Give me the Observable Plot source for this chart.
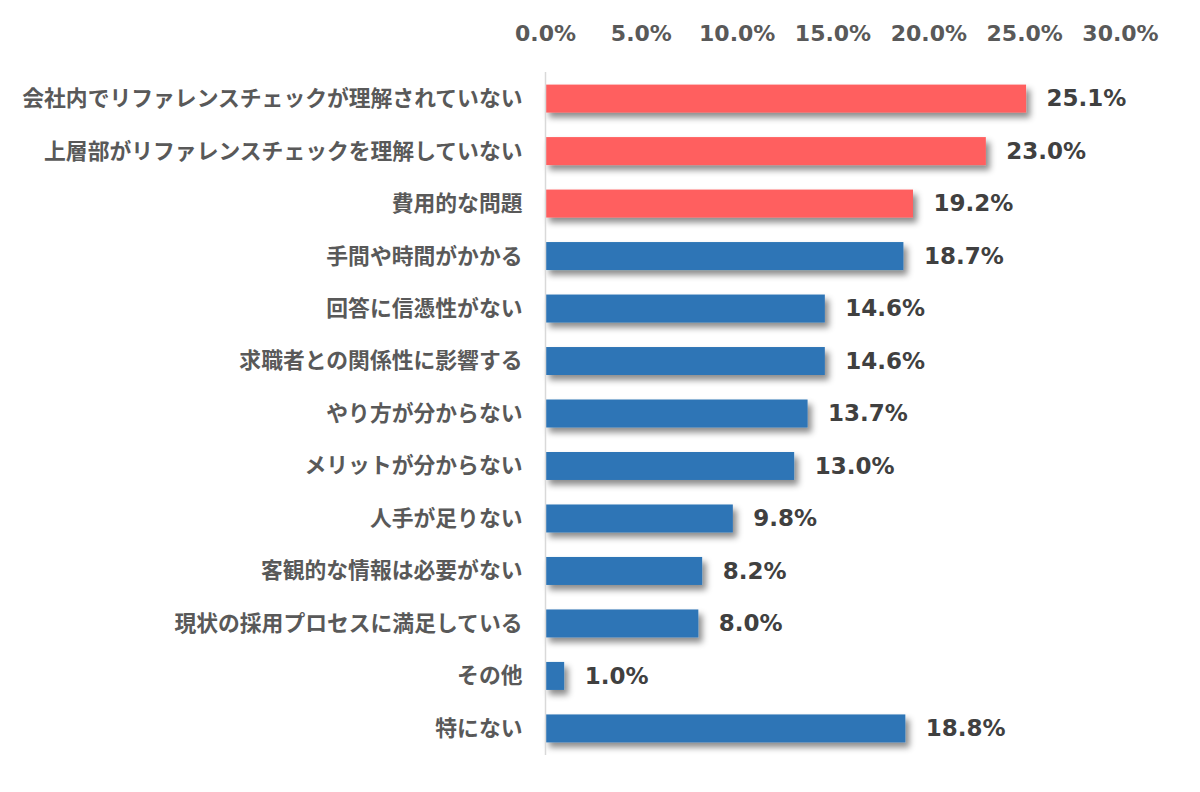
<!DOCTYPE html>
<html><head><meta charset="utf-8">
<script src="https://cdn.jsdelivr.net/npm/d3@7"></script>
<script src="https://cdn.jsdelivr.net/npm/@observablehq/plot@0.6"></script>
<style>
html,body{margin:0;padding:0;background:#fff;}
</style>
</head><body>
<div id="chart"></div>
<script>
const categories = [
  "会社内でリファレンスチェックが理解されていない",
  "上層部がリファレンスチェックを理解していない",
  "費用的な問題",
  "手間や時間がかかる",
  "回答に信憑性がない",
  "求職者との関係性に影響する",
  "やり方が分からない",
  "メリットが分からない",
  "人手が足りない",
  "客観的な情報は必要がない",
  "現状の採用プロセスに満足している",
  "その他",
  "特にない"
];
const values = [25.1, 23.0, 19.2, 18.7, 14.6, 14.6, 13.7, 13.0, 9.8, 8.2, 8.0, 1.0, 18.8];
const highlighted = [true, true, true, false, false, false, false, false, false, false, false, false, false];
const xTicks = [0, 5, 10, 15, 20, 25, 30];

const data = categories.map((c, i) => ({category: c, value: values[i], hi: highlighted[i]}));

const chart = Plot.plot({
  width: 1200,
  height: 792,
  marginLeft: 545,
  marginRight: 80,
  marginTop: 72,
  marginBottom: 37,
  x: {domain: [0, 30], ticks: xTicks, axis: null},
  y: {domain: categories, paddingInner: 0.467, paddingOuter: 0.24, round: false, axis: null},
  marks: [
    Plot.axisX({anchor: "top", ticks: xTicks, tickFormat: d => d.toFixed(1) + "%", tickSize: 0, tickPadding: 32,
      fontSize: 22, fontWeight: "bold", fontFamily: "'DejaVu Sans', Verdana, sans-serif", fill: "#595959", label: null}),
    Plot.axisY({anchor: "left", tickSize: 0, tickPadding: 23, fontSize: 21.8, fontWeight: "bold",
      fontFamily: "'Noto Sans CJK JP', sans-serif", fill: "#595959", label: null}),
    Plot.barX(data, {x: "value", y: "category", fill: d => d.hi ? "#FF5F5F" : "#2E75B6", className: "bars"}),
    Plot.ruleX([0], {stroke: "#d9d9d9", strokeWidth: 1.5}),
    Plot.text(data, {x: "value", y: "category", text: d => d.value.toFixed(1) + "%", textAnchor: "start", dx: 20,
      fontSize: 23, fontWeight: "bold", fontFamily: "'DejaVu Sans', Verdana, sans-serif", fill: "#404040"})
  ]
});

// drop shadow on bars
const ns = "http://www.w3.org/2000/svg";
const defs = document.createElementNS(ns, "defs");
defs.innerHTML = `<filter id="shadow" x="-10%" y="-50%" width="130%" height="250%">
  <feDropShadow dx="4" dy="5" stdDeviation="3" flood-color="#000" flood-opacity="0.45"/></filter>`;
chart.insertBefore(defs, chart.firstChild);
chart.querySelectorAll("g.bars, g[class*='bars']").forEach(g => g.setAttribute("filter", "url(#shadow)"));
document.getElementById("chart").appendChild(chart);
</script>
</body></html>
